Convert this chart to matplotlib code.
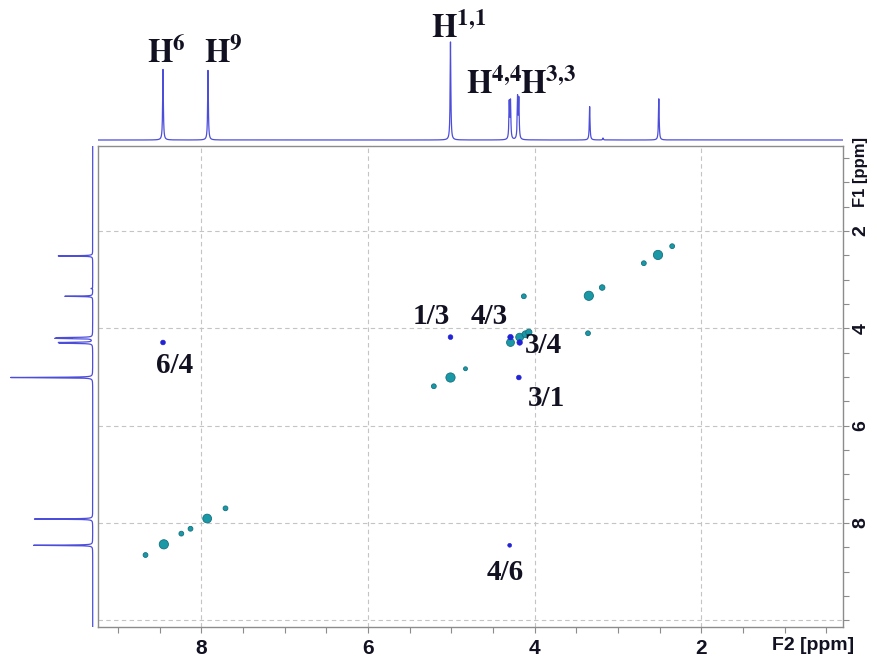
import numpy as np
import matplotlib
matplotlib.use("Agg")
import matplotlib.pyplot as plt
from matplotlib.ticker import MultipleLocator, FixedLocator

plt.rcParams["mathtext.fontset"] = "stix"

# ── 1D projection peaks (ppm, relative height) ───────────────────────────────
proj_ppm = [8.46, 7.92, 5.01, 4.305, 4.29, 4.205, 4.19, 3.34, 3.18, 2.51]
proj_height = [72, 71, 100, 37, 38, 42, 40, 34, 2, 42]

# ── 2D peaks: diagonal (F2, F1, intensity) ───────────────────────────────────
diag_f2 = [8.67, 8.45, 8.24, 8.13, 7.93, 7.71, 5.21, 5.01, 4.83,
           4.29, 4.18, 4.11, 4.07, 4.13, 3.36, 3.35, 3.19, 2.69, 2.52, 2.35]
diag_f1 = [8.66, 8.44, 8.22, 8.12, 7.91, 7.70, 5.19, 5.01, 4.83,
           4.29, 4.18, 4.12, 4.08, 3.34, 4.10, 3.33, 3.16, 2.66, 2.49, 2.31]
diag_int = [3, 11, 3, 3, 10, 3, 3, 11, 2,
            8, 8, 6, 5, 3, 3, 11, 4, 3, 11, 3]

# ── 2D cross peaks ───────────────────────────────────────────────────────────
cross_names = ["6/4", "4/6", "1/3", "3/1", "4/3", "3/4"]
cross_f2 = [8.46, 4.30, 5.01, 4.19, 4.29, 4.18]
cross_f1 = [4.29, 8.46, 4.18, 5.01, 4.18, 4.29]
cross_int = [3, 2, 3, 3, 4, 4]

# ── Assignment labels of the 1D peaks ────────────────────────────────────────
h_labels = [r"$\mathbf{H}^{\mathbf{6}}$", r"$\mathbf{H}^{\mathbf{9}}$",
            r"$\mathbf{H}^{\mathbf{1{,}1}}$", r"$\mathbf{H}^{\mathbf{4{,}4}}$",
            r"$\mathbf{H}^{\mathbf{3{,}3}}$"]

X_LIM = (9.24, 0.30)
Y_LIM = (10.14, 0.25)
LINE = "#4d4ddc"
TEAL = "#1b98a6"
TEAL_EDGE = "#13707e"
BLUE = "#2222d6"
TXT = "#111122"


def spectrum(axis, ppm, height, hw=0.005):
    s = np.zeros_like(axis)
    for p, h in zip(ppm, height):
        s += h / (1 + ((axis - p) / hw) ** 2)
    return s


W, H = 877, 657
fig = plt.figure(figsize=(W / 100, H / 100), dpi=100)

ax = fig.add_axes([98 / W, (H - 627) / H, (843 - 98) / W, (627 - 146) / H])
ax_top = fig.add_axes([98 / W, (H - 143) / H, (843 - 98) / W, 143 / H])
ax_left = fig.add_axes([0, (H - 627) / H, 95 / W, (627 - 146) / H])

# top projection
grid_ppm = np.linspace(X_LIM[1], X_LIM[0], 30000)
spec = spectrum(grid_ppm, proj_ppm, proj_height)
ax_top.plot(grid_ppm, spec, color=LINE, lw=0.9)
ax_top.set_xlim(*X_LIM)
ax_top.set_ylim(-3.06, 142.8)
ax_top.axis("off")

label_pos = [(8.656, 78.6), (7.972, 78.6), (5.24, 104.0), (4.82, 47.0), (4.17, 47.0)]
for lab, (lx, ly) in zip(h_labels, label_pos):
    ax_top.text(lx, ly, lab, fontsize=23.5, color=TXT, ha="left", va="baseline")

# left projection
grid_f1 = np.linspace(Y_LIM[1], Y_LIM[0], 30000)
spec1 = spectrum(grid_f1, proj_ppm, proj_height)
ax_left.plot(spec1, grid_f1, color=LINE, lw=0.9)
ax_left.set_ylim(*Y_LIM)
ax_left.set_xlim(113.05, -2.8)
ax_left.axis("off")

# main 2D panel
ax.set_xlim(*X_LIM)
ax.set_ylim(*Y_LIM)
for v in [2, 4, 6, 8]:
    ax.axvline(v, color="#c4c4c4", lw=0.8, ls=(0, (4, 3)), zorder=0)
for v in [2, 4, 6, 8, 10]:
    ax.axhline(v, color="#c4c4c4", lw=0.8, ls=(0, (4, 3)), zorder=0)

ax.scatter(diag_f2, diag_f1, s=[4 * i for i in diag_int], color=TEAL,
           edgecolors=TEAL_EDGE, linewidths=0.6, zorder=3)
ax.scatter(cross_f2, cross_f1, s=[4 * i for i in cross_int], color=BLUE,
           edgecolors=BLUE, linewidths=0.4, zorder=4)

cross_label_pos = [(8.54, 4.92), (4.58, 9.18), (5.46, 3.90),
                   (4.08, 5.60), (4.77, 3.90), (4.12, 4.51)]
for name, (lx, ly) in zip(cross_names, cross_label_pos):
    ax.text(lx, ly, name, fontsize=21, fontweight="bold", family="Liberation Serif",
            color=TXT, ha="left", va="baseline", zorder=5)

# axes styling
for sp in ax.spines.values():
    sp.set_color("#8c8c8c")
    sp.set_linewidth(1.0)
ax.yaxis.tick_right()
ax.xaxis.set_major_locator(FixedLocator([2, 4, 6, 8]))
ax.xaxis.set_minor_locator(MultipleLocator(0.5))
ax.yaxis.set_major_locator(FixedLocator([2, 4, 6, 8, 10]))
ax.yaxis.set_minor_locator(MultipleLocator(0.5))
ax.set_yticklabels(["2", "4", "6", "8", ""])
ax.tick_params(which="both", direction="out", length=4, width=0.8, color="#8c8c8c")
ax.tick_params(axis="x", pad=5, labelsize=15, labelcolor=TXT)
ax.tick_params(axis="y", pad=3, labelsize=14, labelcolor=TXT, labelrotation=90)
for t in ax.get_xticklabels() + ax.get_yticklabels():
    t.set_fontweight("bold")
    t.set_family("Liberation Sans")
for t in ax.get_yticklabels():
    t.set_va("center")

fig.text(813 / W, 1 - 645 / H, "F2 [ppm]", fontsize=14, fontweight="bold",
         family="Liberation Sans", color=TXT, ha="center", va="center")
fig.text(860 / W, 1 - 172 / H, "F1 [ppm]", fontsize=12, fontweight="bold",
         family="Liberation Sans", color=TXT, ha="center", va="center", rotation=90)

fig.savefig("out.png", dpi=100)
